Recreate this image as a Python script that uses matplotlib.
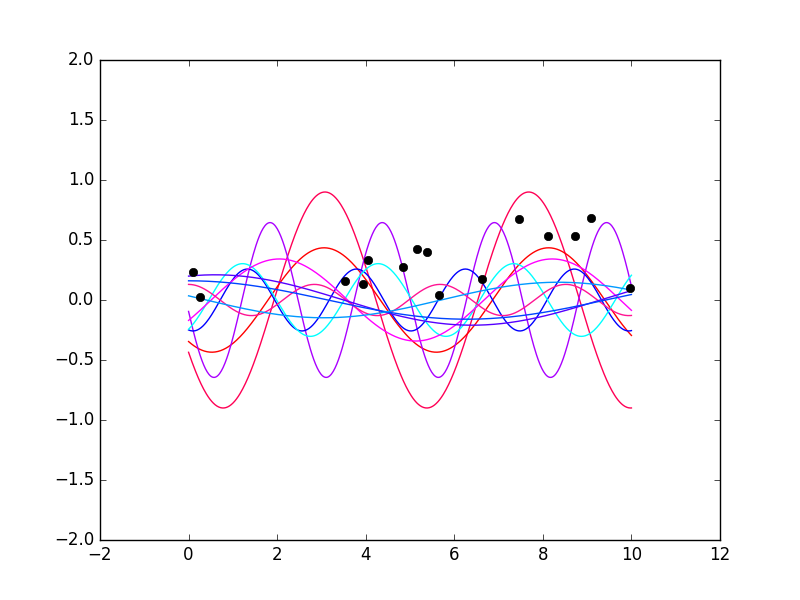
import numpy as np
import matplotlib
matplotlib.use("Agg")
import matplotlib.pyplot as plt

# curve parameters: amplitude, period, x of a peak
colors = ["#ff0055", "#ff0000", "#aa00ff", "#0000ff", "#00ffff",
          "#ff00ff", "#ff1493", "#5500ff", "#0044ff", "#0099ff"]
amplitudes = [0.9, 0.435, 0.645, 0.258, 0.303, 0.342, 0.13, 0.21, 0.16, 0.148]
periods = [4.6, 5.07, 2.533, 2.46, 3.06, 6.16, 2.84, 11.6, 12.56, 10.6]
peaks = [3.08, 3.06, 1.84, 1.33, 1.22, 2.05, 0.0, 0.6, 0.0, 8.35]

# observed points
obs_x = [0.11, 0.26, 3.53, 3.93, 4.06, 4.85, 5.15, 5.39, 5.65, 6.62,
         7.46, 8.11, 8.72, 9.09, 9.97]
obs_y = [0.233, 0.022, 0.161, 0.131, 0.333, 0.272, 0.422, 0.403, 0.042, 0.172,
         0.672, 0.533, 0.533, 0.68, 0.103]

plt.style.use("classic")
fig = plt.figure(figsize=(8, 6), dpi=100)
ax = fig.add_subplot(111)

x = np.linspace(0, 10, 500)
for c, a, p, x0 in zip(colors, amplitudes, periods, peaks):
    ax.plot(x, a * np.cos(2 * np.pi / p * (x - x0)), color=c)

ax.plot(obs_x, obs_y, "ko", markersize=6)
ax.set_xlim(-2, 12)
ax.set_ylim(-2, 2)

fig.savefig("out.png", dpi=100)
